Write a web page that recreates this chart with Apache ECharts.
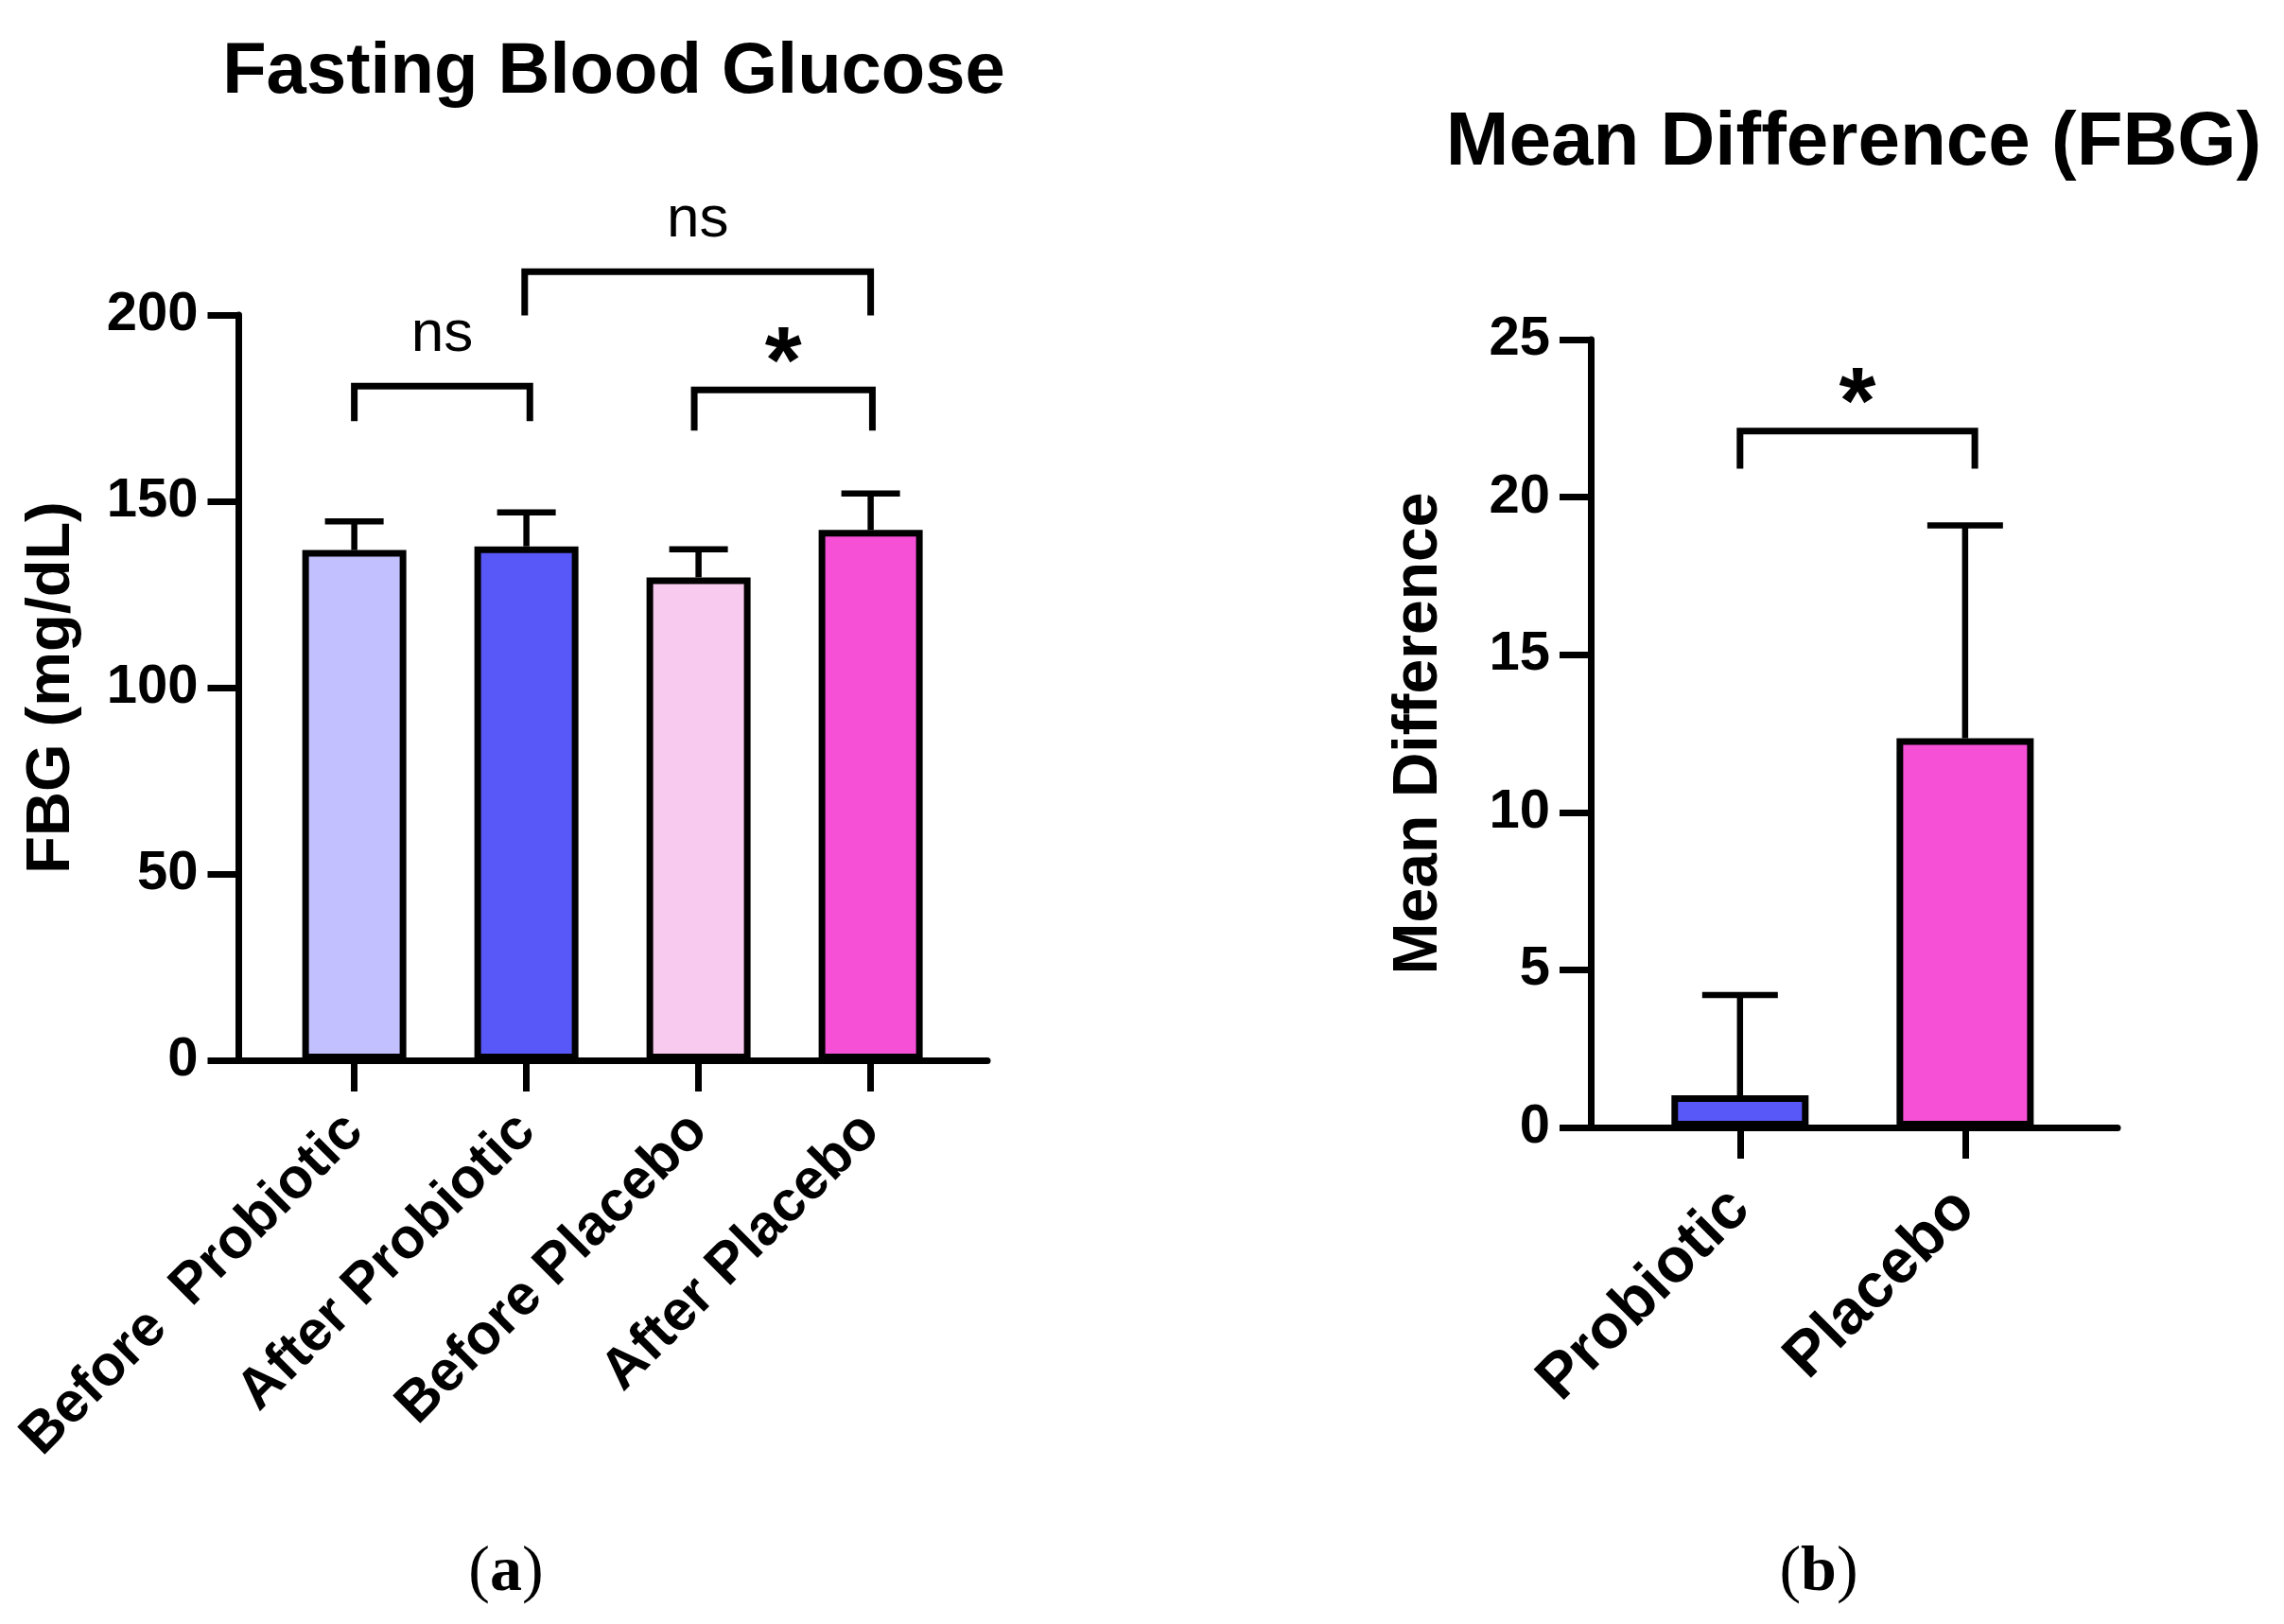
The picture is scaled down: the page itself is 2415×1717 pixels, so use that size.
<!DOCTYPE html>
<html><head><meta charset="utf-8">
<script src="https://cdn.jsdelivr.net/npm/echarts@6/dist/echarts.min.js"></script>
<style>html,body{margin:0;padding:0;background:#fff}#c{width:2415px;height:1717px}</style>
</head><body><div id="c"></div>
<script>
// ---- Panel (a): Fasting Blood Glucose ----
const fbgCategories = ['Before  Probiotic', 'After Probiotic', 'Before Placebo', 'After Placebo'];
const fbgMean = [136.9, 137.9, 129.6, 142.3];
const fbgUpper = [144.6, 147.0, 137.1, 152.1];
const fbgColors = ['#C2C0FE', '#5858F9', '#F9CAEF', '#F550D6'];
const fbgTicks = [0, 50, 100, 150, 200];
// significance brackets (category index from/to, bracket top, leg end)
const fbgSigFrom = [0, 1.975, 0.99];
const fbgSigTo = [1.02, 3.01, 3.0];
const fbgSigTop = [180.9, 179.9, 211.6];
const fbgSigLeg = [171.5, 169.0, 199.9];
const fbgSigText = ['ns', '*', 'ns'];

// ---- Panel (b): Mean Difference (FBG) ----
const mdCategories = ['Probiotic', 'Placebo'];
const mdMean = [1.02, 12.35];
const mdUpper = [4.2, 19.1];
const mdColors = ['#5858F9', '#F550D6'];
const mdTicks = [0, 5, 10, 15, 20, 25];
const mdSigFrom = [0];
const mdSigTo = [1.043];
const mdSigTop = [22.1];
const mdSigLeg = [20.9];
const mdSigText = ['*'];

const FONT = 'Liberation Sans, Arial, Helvetica, sans-serif';
const chart = echarts.init(document.getElementById('c'));

function errorRender(capHalf) {
  return function (params, api) {
    const x = api.value(0), lo = api.value(1), hi = api.value(2);
    const p0 = api.coord([x, lo]), p1 = api.coord([x, hi]);
    return {
      type: 'group', children: [
        { type: 'line', shape: { x1: p0[0], y1: p0[1], x2: p1[0], y2: p1[1] }, style: { stroke: '#000', lineWidth: 6.5 } },
        { type: 'line', shape: { x1: p1[0] - capHalf, y1: p1[1], x2: p1[0] + capHalf, y2: p1[1] }, style: { stroke: '#000', lineWidth: 6.5 } }
      ]
    };
  };
}
function bracketRender(texts) {
  return function (params, api) {
    const x1 = api.value(0), x2 = api.value(1), yt = api.value(2), yl = api.value(3);
    const a = api.coord([x1, yl]), b = api.coord([x1, yt]), c = api.coord([x2, yt]), d = api.coord([x2, yl]);
    const t = texts[params.dataIndex];
    const star = t === '*';
    return {
      type: 'group', children: [
        { type: 'polyline', shape: { points: [a, b, c, d] }, style: { stroke: '#000', lineWidth: 7, fill: null, lineJoin: 'miter', lineCap: 'butt' } },
        { type: 'text', x: (b[0] + c[0]) / 2, y: b[1] - (star ? 25 : 23),
          style: { text: t, textAlign: 'center', textVerticalAlign: star ? 'middle' : 'bottom',
            font: star ? ('bold 100px ' + FONT) : ('normal 62px ' + FONT), fill: '#000' } }
      ]
    };
  };
}

const axisLineStyle = { color: '#000', width: 7 };
function yAxisCfg(grid, max, interval, name, gap, nameSize) {
  return {
    gridIndex: grid, type: 'value', min: 0, max: max, interval: interval,
    name: name, nameLocation: 'middle', nameGap: gap,
    nameTextStyle: { fontSize: nameSize, fontWeight: 'bold', fontFamily: FONT, color: '#000' },
    axisLine: { show: true, onZero: false, lineStyle: axisLineStyle },
    axisTick: { show: true, length: 33, lineStyle: axisLineStyle },
    axisLabel: { fontSize: 58, fontWeight: 'bold', fontFamily: FONT, color: '#000', margin: 43 },
    splitLine: { show: false }
  };
}
function xAxisCfg(grid, min, max, cats, size, margin) {
  const vals = cats.map((c, i) => i);
  return {
    gridIndex: grid, type: 'value', min: min, max: max,
    axisLine: { show: true, onZero: false, lineStyle: axisLineStyle },
    axisTick: { show: true, length: 33, customValues: vals, lineStyle: axisLineStyle },
    axisLabel: { show: true, customValues: vals, formatter: v => cats[Math.round(v)], rotate: 45, margin: margin,
      fontSize: size, fontWeight: 'bold', fontFamily: FONT, color: '#000' },
    splitLine: { show: false }
  };
}

const captionRich = {
  p: { fontSize: 68, fontFamily: 'Liberation Serif, Times New Roman, serif', fill: '#000' },
  l: { fontSize: 68, fontWeight: 'bold', fontFamily: 'Liberation Serif, Times New Roman, serif', fill: '#000' }
};

chart.setOption({
  animation: false,
  backgroundColor: '#fff',
  title: [
    { text: 'Fasting Blood Glucose', left: 649, top: 39, textAlign: 'center', padding: 0,
      textStyle: { fontSize: 76, fontWeight: 'bold', fontFamily: FONT, color: '#000' } },
    { text: 'Mean Difference (FBG)', left: 1960, top: 112, textAlign: 'center', padding: 0,
      textStyle: { fontSize: 80, fontWeight: 'bold', fontFamily: FONT, color: '#000' } }
  ],
  grid: [
    { left: 252.5, top: 333, width: 791.5, height: 788, containLabel: false },
    { left: 1682, top: 359, width: 557, height: 833, containLabel: false }
  ],
  xAxis: [
    xAxisCfg(0, -0.671, 3.678, fbgCategories, 60, 66),
    xAxisCfg(1, -0.663, 1.677, mdCategories, 66, 76)
  ],
  yAxis: [
    yAxisCfg(0, 200, 50, 'FBG (mg/dL)', 165, 65),
    yAxisCfg(1, 25, 5, 'Mean Difference', 148, 66)
  ],
  series: [
    { type: 'bar', xAxisIndex: 0, yAxisIndex: 0, barWidth: 110, z: 2,
      itemStyle: { borderColor: '#000', borderWidth: 7 },
      data: fbgMean.map((v, i) => ({ value: [i, v], itemStyle: { color: fbgColors[i] } })) },
    { type: 'custom', xAxisIndex: 0, yAxisIndex: 0, clip: false, z: 3, renderItem: errorRender(31),
      encode: { x: 0, y: [1, 2] }, data: fbgMean.map((m, i) => [i, m, fbgUpper[i]]) },
    { type: 'custom', xAxisIndex: 0, yAxisIndex: 0, clip: false, z: 3, renderItem: bracketRender(fbgSigText),
      encode: { x: [0, 1], y: [2, 3] }, data: fbgSigFrom.map((f, i) => [f, fbgSigTo[i], fbgSigTop[i], fbgSigLeg[i]]) },

    { type: 'bar', xAxisIndex: 1, yAxisIndex: 1, barWidth: 145, z: 2,
      itemStyle: { borderColor: '#000', borderWidth: 7 },
      data: mdMean.map((v, i) => ({ value: [i, v], itemStyle: { color: mdColors[i] } })) },
    { type: 'custom', xAxisIndex: 1, yAxisIndex: 1, clip: false, z: 3, renderItem: errorRender(40),
      encode: { x: 0, y: [1, 2] }, data: mdMean.map((m, i) => [i, m, mdUpper[i]]) },
    { type: 'custom', xAxisIndex: 1, yAxisIndex: 1, clip: false, z: 3, renderItem: bracketRender(mdSigText),
      encode: { x: [0, 1], y: [2, 3] }, data: mdSigFrom.map((f, i) => [f, mdSigTo[i], mdSigTop[i], mdSigLeg[i]]) }
  ],
  graphic: [
    { type: 'text', x: 535, y: 1663,
      style: { text: '{p|(}{l|a}{p|)}', textAlign: 'center', textVerticalAlign: 'middle', rich: captionRich } },
    { type: 'text', x: 1923, y: 1663,
      style: { text: '{p|(}{l|b}{p|)}', textAlign: 'center', textVerticalAlign: 'middle', rich: captionRich } }
  ]
});
</script></body></html>
